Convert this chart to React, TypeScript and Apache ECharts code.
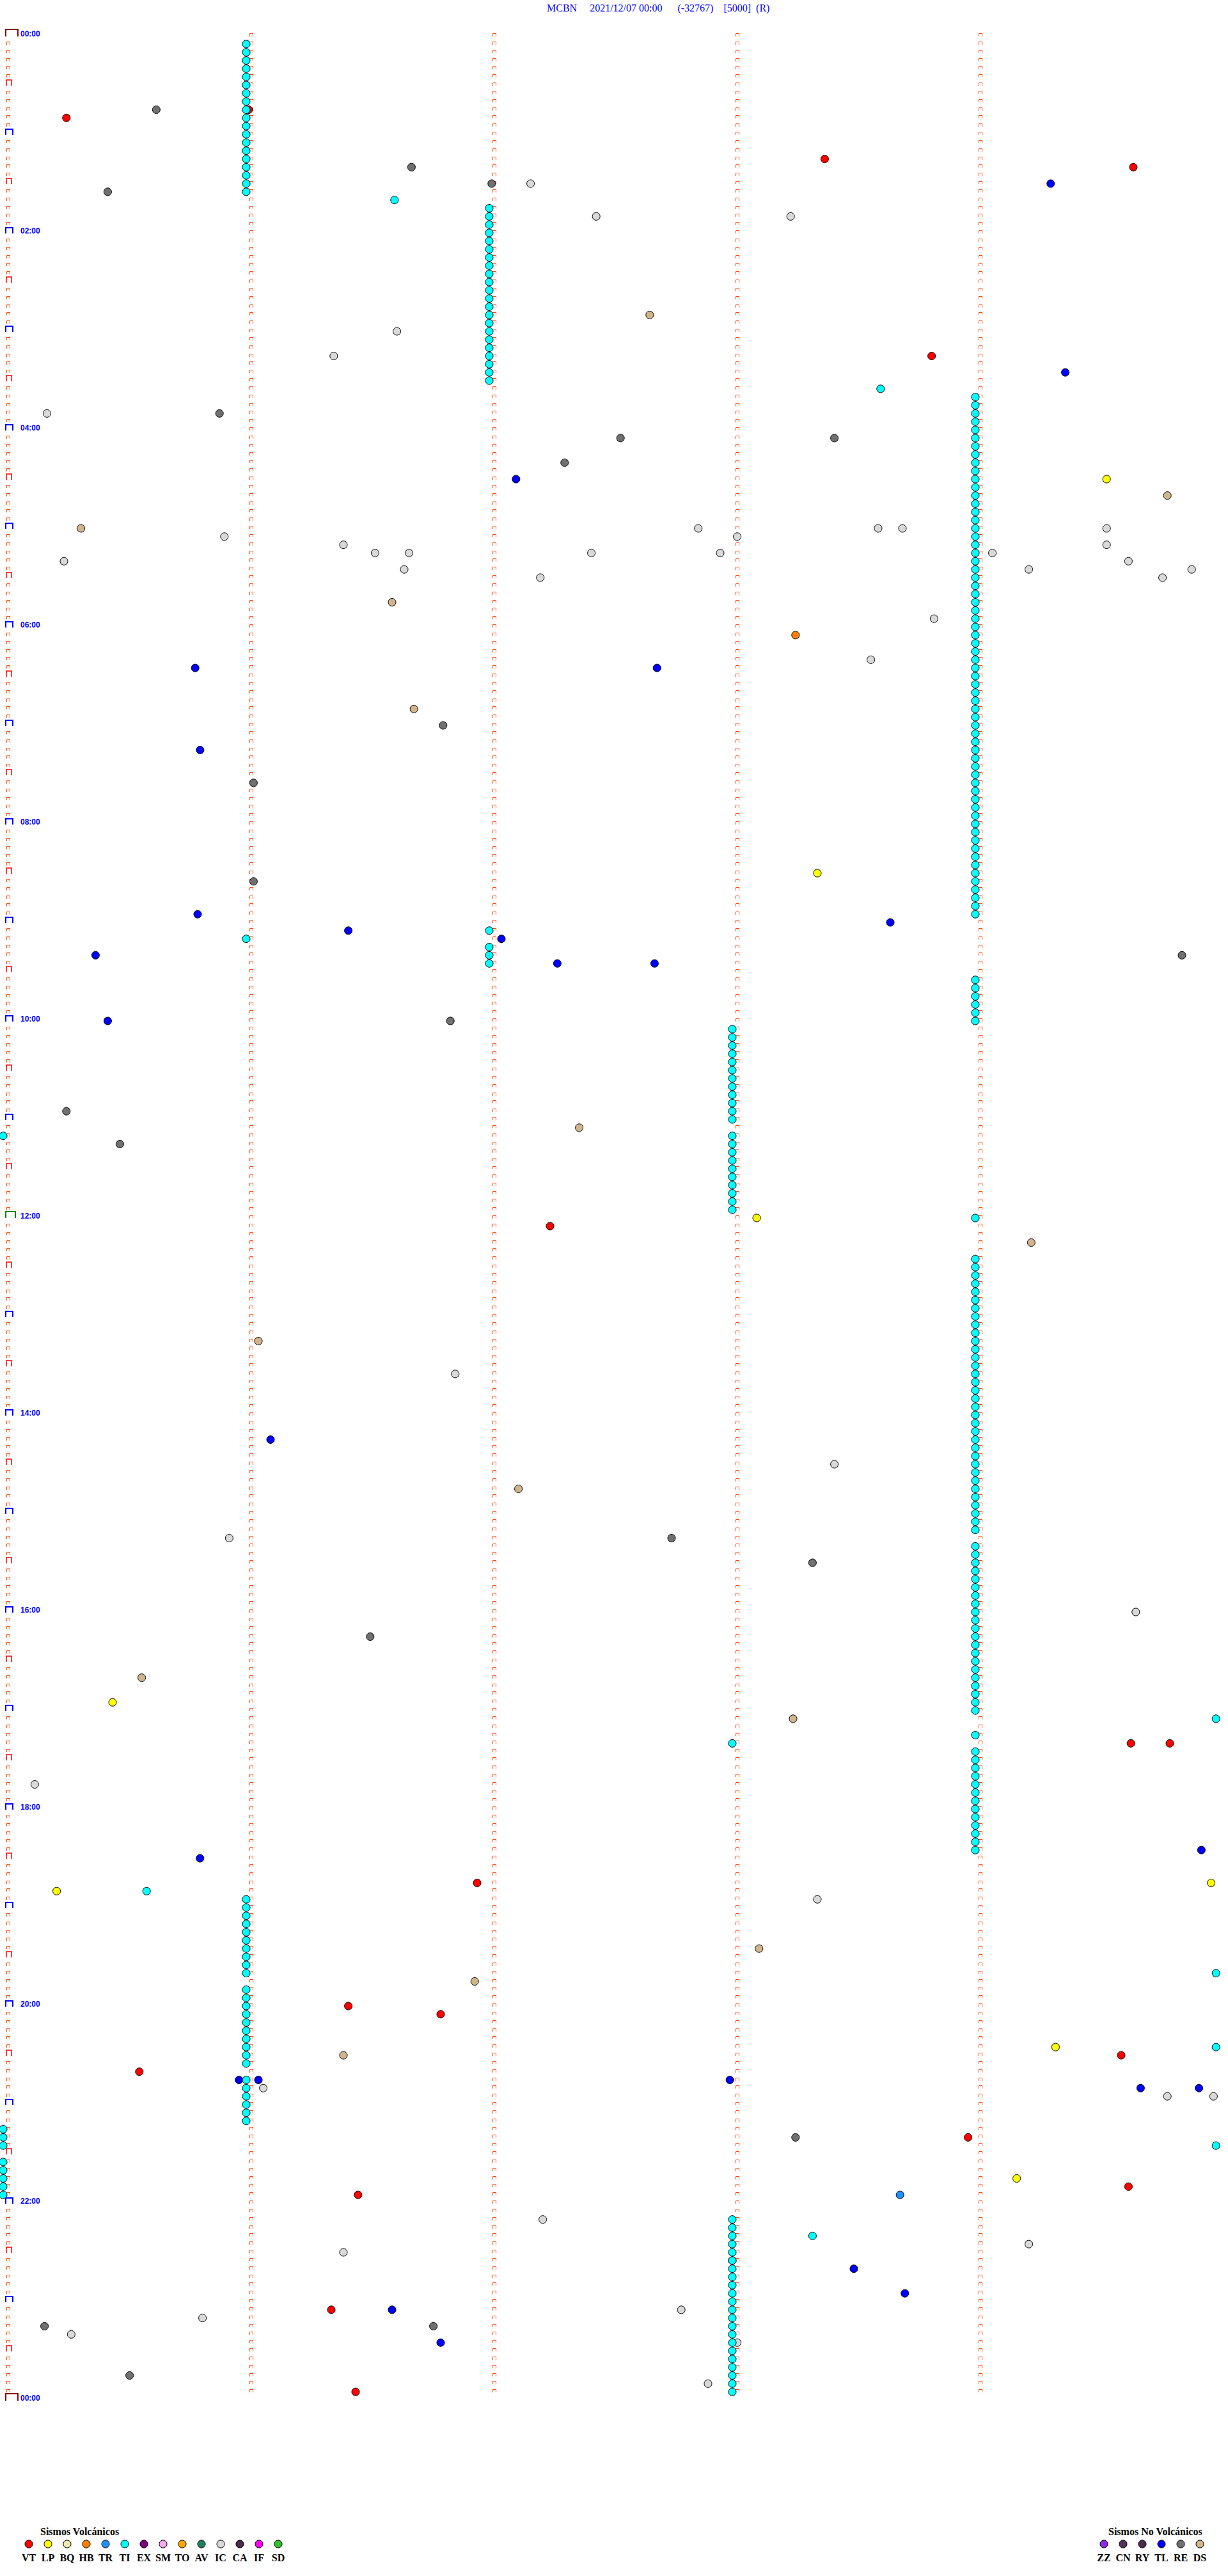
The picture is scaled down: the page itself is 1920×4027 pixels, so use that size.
import React, { useEffect, useRef } from 'react';
import * as echarts from 'echarts';

// ---------- texts ----------
const NB = '\u00a0';
const titleText = 'MCBN' + NB.repeat(5) + '2021/12/07 00:00' + NB.repeat(6) + '(-32767)' + NB.repeat(4) + '[5000]' + NB.repeat(2) + '(R)';
const volcanicHeading = 'Sismos Volcánicos';
const nonVolcanicHeading = 'Sismos No Volcánicos';

// ---------- legend categories ----------
const volcanicTypes = ['VT', 'LP', 'BQ', 'HB', 'TR', 'TI', 'EX', 'SM', 'TO', 'AV', 'IC', 'CA', 'IF', 'SD'];
const volcanicColors = ['#ff0000', '#ffff00', '#eee8aa', '#ff8000', '#1e90ff', '#00ffff', '#800080', '#eeaaee', '#ffa500', '#1f7f5f', '#d9d9d9', '#4a2a4a', '#ff00ff', '#30c030'];
const nonVolcanicTypes = ['ZZ', 'CN', 'RY', 'TL', 'RE', 'DS'];
const nonVolcanicColors = ['#8a2be2', '#553355', '#4f2a4f', '#0000ff', '#707070', '#d2b48c'];

// ---------- events: minute of the day ----------
const VT = [46.01, 50.26, 78.38, 84.65, 198.82, 727.25, 1044.64, 1044.80, 1126.95, 1201.42, 1206.8, 1234.6, 1240.56, 1283.97, 1314.63, 1316.46, 1386.35, 1436.45];
const LP = [274.54, 513.35, 723.10, 1015.45, 1129.97, 1130.22, 1229.33, 1309.17];
const HB = [368.26];
const TR = [1318.69];
const TI = [
  6, 11, 16, 21, 26, 31, 36, 41, 46, 51, 56, 61, 66, 71, 76, 81, 86, 91, 96,
  101.61,
  107, 112, 117, 122, 127, 132, 137, 142, 147, 152, 157, 162, 167, 172, 177, 182, 187, 192, 197, 202, 207, 212,
  218.61,
  224, 229, 234, 239, 244, 249, 254, 259, 264, 269, 274, 279, 284, 289, 294, 299, 304, 309, 314, 319,
  324, 329, 334, 339, 344, 349, 354, 359, 364, 369, 374, 379, 384, 389, 394, 399, 404, 409, 414, 419,
  424, 429, 434, 439, 444, 449, 454, 459, 464, 469, 474, 479, 484, 489, 494, 499, 504, 509, 514, 519,
  524, 529, 534, 539,
  547, 551, 557, 562, 567,
  579, 584, 589, 594, 599, 604,
  608, 613, 618, 623, 628, 633, 638, 643, 648, 653, 658, 663,
  670,
  673, 678, 683, 688, 693, 698, 703, 708, 713, 718,
  724,
  749, 754, 759, 764, 769, 774, 779, 784, 789, 794, 799, 804, 809, 814, 819, 824, 829, 834, 839, 844,
  849, 854, 859, 864, 869, 874, 879, 884, 889, 894, 899, 904, 909, 914,
  924, 929, 934, 939, 944, 949, 954, 959, 964, 969, 974, 979, 984, 989, 994, 999, 1004, 1009, 1014, 1019, 1024,
  1029.99, 1039, 1043,
  1049, 1054, 1059, 1064, 1069, 1074, 1079, 1084, 1089, 1094, 1099, 1104, 1109,
  1130.59,
  1136, 1141, 1146, 1151, 1156, 1161, 1166, 1171, 1176, 1181,
  1184.99,
  1191, 1196, 1201, 1206, 1211, 1216, 1221, 1226, 1231, 1236,
  1229.99,
  1246, 1251, 1256, 1261, 1266, 1271,
  1275, 1280, 1285, 1289.99, 1295, 1300, 1305, 1310, 1315,
  1343.33,
  1333, 1338, 1343, 1348, 1353, 1358, 1363, 1368, 1373, 1378, 1383, 1388, 1393, 1398, 1403, 1408, 1413, 1418, 1423, 1428, 1433, 1438,
];
const IC = [92.17, 112.44, 113.24, 181.62, 196.36, 230.18, 302.86, 303.60, 303.70, 304.54, 305.91, 308.02, 311.40, 314.54, 316.53, 316.67, 317.42, 317.95, 319.07, 320.25, 324.63, 326.65, 329.22, 329.89, 332.21, 334.77, 358.83, 383.57, 816.86, 873.42, 915.93, 964.66, 1065.13, 1138.35, 1251.07, 1259.79, 1259.98, 1332.22, 1349.22, 1351.40, 1387.79, 1390.82, 1400.28, 1408.02, 1432.90];
const RE = [45.63, 81.68, 92.01, 95.43, 230.89, 247.54, 248.42, 262.31, 421.81, 456.03, 516.03, 564.85, 601.84, 655.26, 675.48, 917.75, 933.33, 976.51, 1283.26, 1358.0, 1395.17, 1396.77, 1425.52];
const DS = [172.66, 284.79, 300.32, 346.60, 411.69, 667.37, 739.23, 796.05, 887.12, 1000.57, 1028.25, 1168.11, 1186.94, 1231.40];
const TL = [94.31, 209.37, 272.11, 385.79, 387.69, 435.81, 535.80, 543.65, 546.42, 552.05, 560.38, 567.28, 567.68, 600.43, 856.10, 1109.93, 1110.81, 1245.97, 1246.05, 1247.99, 1254.68, 1254.92, 1363.50, 1378.71, 1386.60, 1406.80];

// drawing order (later = on top)
const seriesOrder: [string, number[]][] = [
  ['RE', RE], ['IC', IC], ['DS', DS], ['TL', TL], ['VT', VT], ['LP', LP], ['HB', HB], ['TR', TR], ['TI', TI],
];

// ---------- time grid ----------
const ROW_MINUTES = 5;
const ROWS = 288;
const COLUMNS = 5;
const LABEL_INTERVAL = 120;

function colorOf(code: string): string {
  const i = volcanicTypes.indexOf(code);
  if (i >= 0) return volcanicColors[i];
  return nonVolcanicColors[nonVolcanicTypes.indexOf(code)];
}

function toPoint(t: number): [number, number] {
  const row = Math.floor(t / ROW_MINUTES + 1e-9) * ROW_MINUTES;
  return [t - row, row];
}

// tick kinds: 0 small, 1 half hour, 2 hour, 3 noon, 4 midnight
const TICK_STYLE = [
  { dx: 5, w: 5, top: -1, bot: 4, color: '#ff4500', lw: 1 },
  { dx: 5, w: 8, top: -5, bot: 4, color: '#ff0000', lw: 1.5 },
  { dx: 4, w: 11, top: -5, bot: 4, color: '#0000ff', lw: 2 },
  { dx: 4, w: 15, top: -7, bot: 3, color: '#008000', lw: 2 },
  { dx: 4, w: 19, top: -7, bot: 4, color: '#800000', lw: 2 },
];

function buildTicks(): number[][] {
  const out: number[][] = [];
  for (let c = 0; c < COLUMNS; c++) {
    const last = c === 0 ? ROWS : ROWS - 1;
    for (let r = 0; r <= last; r++) {
      let kind = 0;
      if (c === 0) {
        if (r === 0 || r === ROWS) kind = 4;
        else if (r === ROWS / 2) kind = 3;
        else if (r % 12 === 0) kind = 2;
        else if (r % 6 === 0) kind = 1;
      }
      out.push([c, r * ROW_MINUTES, kind]);
    }
  }
  return out;
}

function fmt(v: number): string {
  const m = v % 1440;
  const h = Math.floor(m / 60);
  const mm = m % 60;
  return String(h).padStart(2, '0') + ':' + String(mm).padStart(2, '0');
}

export default function App() {
  const ref = useRef<HTMLDivElement>(null);
  useEffect(() => {
    if (!ref.current) return;
    const chart = echarts.init(ref.current, null, { renderer: 'svg' });

    const scatterSeries = seriesOrder.map(([code, times]) => ({
      type: 'scatter',
      name: code,
      data: times.map(toPoint),
      symbol: 'circle',
      symbolSize: 12,
      symbolOffset: [0, 3],
      itemStyle: { color: colorOf(code), borderColor: '#000', borderWidth: 1, opacity: 1 },
      emphasis: { disabled: true },
      clip: false,
      z: 3,
    }));

    const legendGraphics: any[] = [];
    volcanicTypes.forEach((code, i) => {
      const cx = 45 + 30 * i;
      legendGraphics.push({ type: 'circle', shape: { cx, cy: 3977, r: 6 }, style: { fill: volcanicColors[i], stroke: '#000', lineWidth: 1 } });
      legendGraphics.push({ type: 'text', x: cx, y: 3998, style: { text: code, font: 'bold 16px "Liberation Serif"', fill: '#000', align: 'center', verticalAlign: 'middle' } });
    });
    nonVolcanicTypes.forEach((code, i) => {
      const cx = 1726 + 30 * i;
      legendGraphics.push({ type: 'circle', shape: { cx, cy: 3977, r: 6 }, style: { fill: nonVolcanicColors[i], stroke: '#000', lineWidth: 1 } });
      legendGraphics.push({ type: 'text', x: cx, y: 3998, style: { text: code, font: 'bold 16px "Liberation Serif"', fill: '#000', align: 'center', verticalAlign: 'middle' } });
    });
    legendGraphics.push({ type: 'text', x: 63, y: 3957, style: { text: volcanicHeading, font: 'bold 16px "Liberation Serif"', fill: '#000', align: 'left', verticalAlign: 'middle' } });
    legendGraphics.push({ type: 'text', x: 1733, y: 3957, style: { text: nonVolcanicHeading, font: 'bold 16px "Liberation Serif"', fill: '#000', align: 'left', verticalAlign: 'middle' } });

    chart.setOption({
      animation: false,
      backgroundColor: '#ffffff',
      title: {
        text: titleText,
        left: 855,
        top: 4,
        padding: 0,
        textStyle: { color: '#0000ff', fontFamily: '"Liberation Serif"', fontSize: 16, fontWeight: 'normal' },
      },
      grid: { left: 5, top: 53, width: 1900, height: 3696, containLabel: false },
      xAxis: { type: 'value', min: 0, max: 5, show: false },
      yAxis: {
        type: 'value',
        inverse: true,
        min: 0,
        max: 1440,
        interval: LABEL_INTERVAL,
        axisLine: { show: false },
        axisTick: { show: false },
        splitLine: { show: false },
        axisLabel: {
          inside: true,
          margin: 27,
          showMinLabel: true,
          showMaxLabel: true,
          formatter: fmt,
          color: '#0000ff',
          fontWeight: 'bold',
          fontSize: 12,
          fontFamily: '"Liberation Sans"',
          padding: [0, 0, 4, 0],
        },
      },
      series: [
        {
          type: 'custom',
          name: 'ticks',
          data: buildTicks(),
          dimensions: ['col', 'minute', 'kind'],
          encode: { x: 0, y: 1 },
          clip: false,
          silent: true,
          z: 1,
          renderItem: (params: any, api: any) => {
            const p = api.coord([api.value(0), api.value(1)]);
            const s = TICK_STYLE[api.value(2)];
            const half = s.lw % 2 === 1 ? 0.5 : 0;
            const x0 = Math.round(p[0]) + s.dx + half;
            const x1 = x0 + s.w;
            const y = Math.round(p[1]);
            return {
              type: 'polyline',
              shape: { points: [[x0, y + s.bot], [x0, y + s.top + half], [x1, y + s.top + half], [x1, y + s.bot]] },
              style: { stroke: s.color, fill: null, lineWidth: s.lw },
            };
          },
        },
        ...scatterSeries,
      ],
      graphic: legendGraphics,
    });
    return () => chart.dispose();
  }, []);
  return <div ref={ref} style={{ position: 'absolute', left: 0, top: 0, width: 1920, height: 4027 }} />;
}
